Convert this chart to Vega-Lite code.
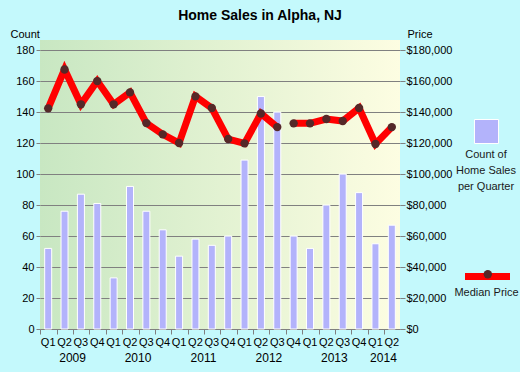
{
  "$schema": "https://vega.github.io/schema/vega-lite/v6.json",
  "width": 360,
  "height": 289,
  "autosize": {"type": "none"},
  "padding": {"left": 40, "top": 40, "right": 120, "bottom": 43},
  "background": "#c4f9fc",
  "title": {"text": "Home Sales in Alpha, NJ", "font": "Liberation Sans", "fontSize": 14, "fontWeight": "bold", "color": "#000000", "anchor": "middle", "dx": 40, "offset": 5},
  "config": {
    "font": "Liberation Sans",
    "view": {"stroke": null, "fill": {"gradient": "linear", "x1": 0, "y1": 0, "x2": 1, "y2": 0, "stops": [{"offset": 0, "color": "#c8e7c2"}, {"offset": 1, "color": "#fdfde2"}]}},
    "axis": {"labelFont": "Liberation Sans", "labelFontSize": 11, "labelColor": "#000000", "titleFont": "Liberation Sans", "titleFontSize": 11, "titleFontWeight": "normal", "titleColor": "#000000", "tickColor": "#808080", "domainColor": "#808080"},
    "legend": {"labelFont": "Liberation Sans", "labelFontSize": 11, "labelColor": "#1a1a1a"}
  },
  "data": {"values": [
    {"q": "2009 Q1", "count": 52, "price": 142400, "seg": "a"},
    {"q": "2009 Q2", "count": 76, "price": 167500, "seg": "a"},
    {"q": "2009 Q3", "count": 87, "price": 145000, "seg": "a"},
    {"q": "2009 Q4", "count": 81, "price": 160000, "seg": "a"},
    {"q": "2010 Q1", "count": 33, "price": 145000, "seg": "a"},
    {"q": "2010 Q2", "count": 92, "price": 152700, "seg": "a"},
    {"q": "2010 Q3", "count": 76, "price": 132900, "seg": "a"},
    {"q": "2010 Q4", "count": 64, "price": 125600, "seg": "a"},
    {"q": "2011 Q1", "count": 47, "price": 120000, "seg": "a"},
    {"q": "2011 Q2", "count": 58, "price": 150100, "seg": "a"},
    {"q": "2011 Q3", "count": 54, "price": 142600, "seg": "a"},
    {"q": "2011 Q4", "count": 60, "price": 122600, "seg": "a"},
    {"q": "2012 Q1", "count": 109, "price": 119800, "seg": "a"},
    {"q": "2012 Q2", "count": 150, "price": 139100, "seg": "a"},
    {"q": "2012 Q3", "count": 140, "price": 130300, "seg": "a"},
    {"q": "2012 Q4", "count": 60, "price": 132700, "seg": "b"},
    {"q": "2013 Q1", "count": 52, "price": 132700, "seg": "b"},
    {"q": "2013 Q2", "count": 80, "price": 135500, "seg": "b"},
    {"q": "2013 Q3", "count": 100, "price": 134200, "seg": "b"},
    {"q": "2013 Q4", "count": 88, "price": 142600, "seg": "b"},
    {"q": "2014 Q1", "count": 55, "price": 119400, "seg": "b"},
    {"q": "2014 Q2", "count": 67, "price": 130300, "seg": "b"}
  ]},
  "resolve": {"scale": {"y": "independent"}, "axis": {"x": "independent"}},
  "layer": [
    {
      "mark": {"type": "bar", "size": 7, "stroke": "#ffffff", "strokeWidth": 1},
      "encoding": {
        "x": {"field": "q", "type": "ordinal", "sort": null,
          "axis": {"orient": "bottom", "title": null, "labelExpr": "slice(datum.value, 5)", "labelAngle": 0, "bandPosition": 0, "tickSize": 5, "labelPadding": 2, "grid": false, "domain": true, "labelOverlap": false, "labelBound": false}},
        "y": {"field": "count", "type": "quantitative", "scale": {"domain": [0, 186.5], "nice": false},
          "axis": {"title": "Count", "titleAngle": 0, "titleAlign": "left", "titleBaseline": "alphabetic", "titleX": -30, "titleY": -3, "values": [0, 20, 40, 60, 80, 100, 120, 140, 160, 180], "grid": true, "gridColor": "#808080", "gridWidth": 1, "tickSize": 4, "labelPadding": 2, "domain": false}},
        "fill": {"datum": "Count of Home Sales per Quarter", "scale": {"range": ["#b3b3fb"]},
          "legend": {"title": null, "orient": "none", "legendX": 434, "legendY": 79, "padding": 0, "symbolType": "square", "symbolSize": 576, "symbolStrokeColor": "#ffffff", "symbolStrokeWidth": 1, "symbolOpacity": 1,
            "labelExpr": "['Count of', 'Home Sales', 'per Quarter']",
            "encode": {"labels": {"update": {"x": {"value": 12}, "y": {"value": 30}, "align": {"value": "center"}, "baseline": {"value": "top"}, "lineHeight": {"value": 16}}}}}}
      }
    },
    {
      "mark": {"type": "line", "strokeWidth": 7},
      "encoding": {
        "x": {"field": "q", "type": "ordinal", "sort": null,
          "axis": {"title": null, "orient": "bottom", "labelExpr": "((slice(datum.value, 5) == 'Q2' && datum.value < '2014') || datum.value == '2014 Q1') ? slice(datum.value, 0, 4) : ''", "labelAngle": 0, "labelFontSize": 12, "labelOffset": 8, "ticks": false, "tickSize": 0, "domain": false, "grid": false, "labelPadding": 23, "labelOverlap": false, "labelBound": false}},
        "y": {"field": "price", "type": "quantitative", "scale": {"domain": [0, 186500], "nice": false},
          "axis": {"orient": "right", "title": "Price", "titleAngle": 0, "titleAlign": "left", "titleBaseline": "alphabetic", "titleX": 7, "titleY": -3, "format": "$,.0f", "values": [0, 20000, 40000, 60000, 80000, 100000, 120000, 140000, 160000, 180000], "grid": false, "tickSize": 5, "labelPadding": 1, "domain": false}},
        "detail": {"field": "seg"},
        "stroke": {"datum": "Median Price", "scale": {"range": ["#ff0000"]},
          "legend": {"title": null, "orient": "none", "legendX": 421.5, "legendY": 210.5, "padding": 0, "symbolType": "stroke", "symbolSize": 2025, "symbolStrokeWidth": 7, "symbolStrokeColor": "#ff0000",
            "encode": {"labels": {"update": {"x": {"value": 25}, "y": {"value": 42.5}, "align": {"value": "center"}, "baseline": {"value": "middle"}}}}}}
      }
    },
    {
      "mark": {"type": "point", "filled": true, "size": 70, "opacity": 1, "color": "#552828"},
      "encoding": {
        "x": {"field": "q", "type": "ordinal", "sort": null, "axis": null},
        "y": {"field": "price", "type": "quantitative", "scale": {"domain": [0, 186500], "nice": false}, "axis": null},
        "shape": {"datum": "dot", "scale": {"range": ["circle"]},
          "legend": {"title": null, "orient": "none", "legendX": 442.3, "legendY": 228.8, "padding": 0, "symbolSize": 70, "symbolFillColor": "#552828", "symbolStrokeWidth": 0, "symbolOpacity": 1, "labelExpr": "''"}}
      }
    }
  ]
}
